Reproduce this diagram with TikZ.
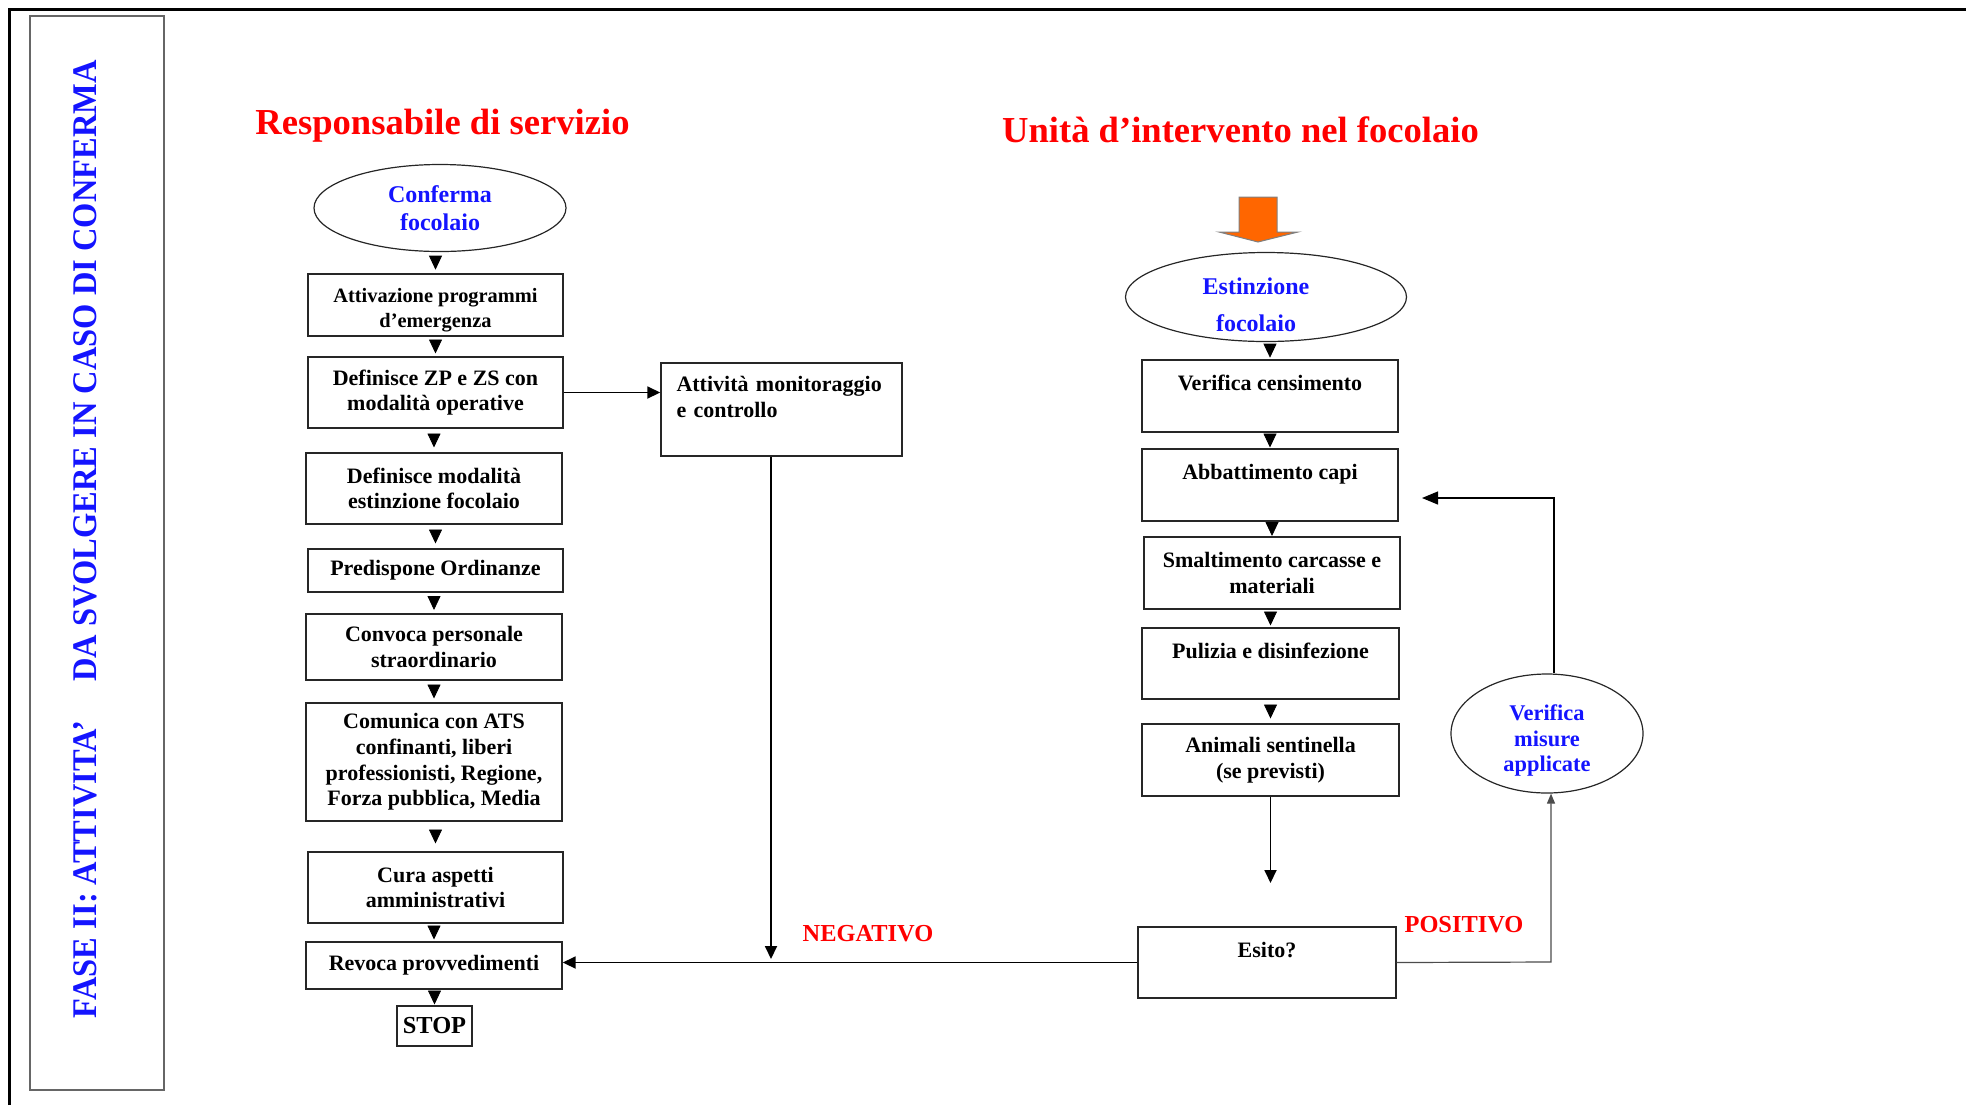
\documentclass[tikz,border=0pt]{standalone}
\usepackage{fontspec}
\setmainfont{Liberation Serif}
\usepackage{graphicx}
\usetikzlibrary{arrows.meta,shapes.geometric,decorations.markings}
\definecolor{ttlred}{RGB}{255,0,0}
\definecolor{lblue}{RGB}{20,20,255}
\definecolor{fireorange}{RGB}{255,102,0}

\begin{document}
\begin{tikzpicture}[x=0.5pt,y=-0.5pt,
  sz/.style 2 args={minimum width=#1*0.5pt,minimum height=#2*0.5pt},
  stepbox/.style={draw=black!85,line width=0.7pt,inner sep=1pt,align=center,
    font=\bfseries\fontsize{11}{12.8}\selectfont},
  smallbox/.style={stepbox,font=\bfseries\fontsize{10.2}{12.5}\selectfont},
  oval/.style={ellipse,draw=black!85,line width=0.6pt,inner sep=0pt,align=center,
    text=lblue,font=\bfseries\fontsize{12}{14}\selectfont},
  ovaltext/.style={align=center,inner sep=0pt,text=lblue,font=\bfseries\fontsize{12}{14}\selectfont},
  title/.style={text=ttlred,font=\bfseries\fontsize{18.3}{22}\selectfont},
  outcome/.style={text=ttlred,font=\bfseries\fontsize{12.2}{14}\selectfont},
  downtri/.style={decoration={markings,mark=at position 0.5 with
    {\arrow[xshift=3.5pt]{Triangle[width=6.5pt,length=7pt]}}},postaction={decorate}},
  conn/.style={line width=0.9pt,-{Triangle[width=6pt,length=6.5pt]}},
  thinconn/.style={line width=0.6pt,-{Triangle[width=6.5pt,length=8pt]}},
]
\useasboundingbox (0,0) rectangle (1966,1105);

% page frame and side band
\draw[line width=1.5pt] (9,1105) -- (9,9) -- (1966,9);
\draw[draw=black!60,line width=0.8pt] (30,16) rectangle (164,1090);
\node[rotate=90,text=lblue] (band) at (85.5,539)
  {\resizebox{479pt}{11.5pt}{\bfseries FASE II: ATTIVITA’\hspace{1.2em}DA SVOLGERE IN CASO DI CONFERMA}};

% column titles
\node[title] (t1) at (442.5,126) {Responsabile di servizio};
\node[title] (t2) at (1240.5,130) {Unità d’intervento nel focolaio};

% left column
\node[oval,sz={252}{87}] (ell1) at (440,208) {Conferma\\focolaio};
\node[smallbox,sz={255}{62}] (b1) at (435.5,305) {\rule{0pt}{12pt}Attivazione programmi\\d’emergenza};
\node[stepbox,sz={255}{71}] (b2) at (435.5,392.5) {Definisce ZP e ZS con\\modalità operative};
\node[stepbox,sz={256}{71}] (b3) at (434,488.5) {Definisce modalità\\estinzione focolaio};
\node[stepbox,sz={255}{43}] (b4) at (435.5,570.5) {Predispone Ordinanze};
\node[stepbox,sz={256}{66}] (b5) at (434,647) {Convoca personale\\straordinario};
\node[stepbox,sz={256}{118}] (b6) at (434,762)
  {Comunica con ATS\\confinanti, liberi\\professionisti, Regione,\\Forza pubblica, Media};
\node[stepbox,sz={255}{71}] (b7) at (435.5,887.5) {Cura aspetti\\amministrativi};
\node[stepbox,sz={256}{47}] (b8) at (434,965.5) {Revoca provvedimenti};
\node[stepbox,sz={75}{40},font=\bfseries\fontsize{12.2}{14}\selectfont] (stop) at (434.5,1026) {STOP};

\path[downtri] (b1.north |- ell1.south) -- (b1.north);
\path[downtri] (b2.north |- b1.south) -- (b2.north);
\path[downtri] (b3.north |- b2.south) -- (b3.north);
\path[downtri] (b4.north |- b3.south) -- (b4.north);
\path[downtri] (b5.north |- b4.south) -- (b5.north);
\path[downtri] (b6.north |- b5.south) -- (b6.north);
\path[downtri] (b7.north |- b6.south) -- (b7.north);
\path[downtri] (b8.north |- b7.south) -- (b8.north);
\path[downtri] (stop.north |- b8.south) -- (stop.north);

% monitoring branch
\node[stepbox,sz={241}{93},align=left,text width=105pt,inner xsep=7.5pt] (mon) at (781.5,409.5)
  {Attività monitoraggio\\e controllo\\~};
\draw[conn] (b2.east) -- (mon.west |- b2.east);
\coordinate (negend) at (771,959);
\draw[conn] (mon.south -| negend) -- (negend);
\node[outcome] (neg) at (868,934) {NEGATIVO};

% right column
\fill[fireorange,draw=black!50,line width=0.5pt] (1239,197) -- (1277,197) -- (1277,232)
  -- (1298,232) -- (1258,242) -- (1219,232) -- (1239,232) -- cycle;
\node[oval,sz={281}{89}] (ell2) at (1266,297) {};
\node[ovaltext,font=\bfseries\fontsize{12}{18.5}\selectfont] (ell2txt)
  at ([xshift=-5pt,yshift=-4pt]ell2.center) {Estinzione\\focolaio};
\node[stepbox,sz={256}{72}] (r1) at (1270,396) {Verifica censimento\\~};
\node[stepbox,sz={256}{72}] (r2) at (1270,485) {Abbattimento capi\\~};
\node[stepbox,sz={256}{72}] (r3) at (1272,573) {Smaltimento carcasse e\\materiali};
\node[stepbox,sz={257}{71}] (r4) at (1270.5,663.5) {Pulizia e disinfezione\\~};
\node[stepbox,sz={257}{72}] (r5) at (1270.5,760) {Animali sentinella\\(se previsti)};
\node[stepbox,sz={258}{71}] (esito) at (1267,962.5) {Esito?\\~};
\node[oval,sz={192}{119}] (verif) at (1547,733.5) {};
\node[ovaltext,font=\bfseries\fontsize{11.2}{12.6}\selectfont] (veriftxt)
  at ([yshift=-3.5pt]verif.center) {Verifica\\misure\\applicate};

\path[downtri] (r1.north |- ell2.south) -- (r1.north);
\path[downtri] (r2.north |- r1.south) -- (r2.north);
\path[downtri] (r3.north |- r2.south) -- (r3.north);
\path[downtri] (r4.north |- r3.south) -- (r4.north);
\path[downtri] (r5.north |- r4.south) -- (r5.north);

\draw[conn] (r5.south) -- (r5.south |- 0,883);
\draw[conn] (esito.west) -- (esito.west -| b8.east);

% positive outcome loops back
\coordinate (posc) at (1551,962);
\draw[black!70,line width=0.6pt,-{Triangle[width=4pt,length=5pt]}]
  (esito.east) -- (posc) -- (posc |- verif.south);
\node[outcome] (pos) at (1464,925) {POSITIVO};
\coordinate (loopc) at (1554,498);
\coordinate (loopend) at (1422,498);
\draw[thinconn] (verif.north -| loopc) -- (loopc) -- (loopend);
\end{tikzpicture}
\end{document}
